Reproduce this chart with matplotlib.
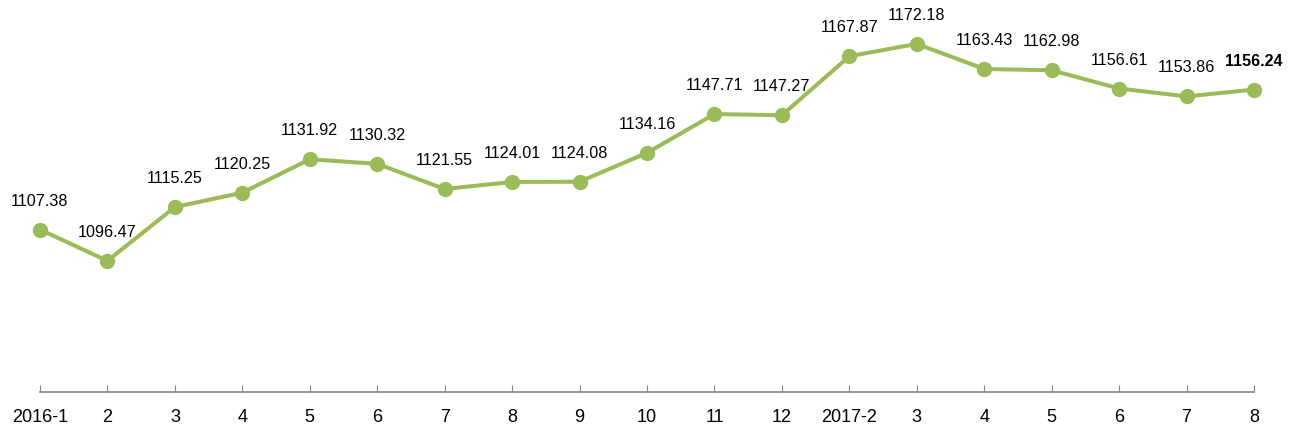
import numpy as np
import matplotlib.pyplot as plt

plt.rcParams['font.family'] = ['Liberation Sans', 'DejaVu Sans']

months = ['2016-1', '2', '3', '4', '5', '6', '7', '8', '9', '10', '11', '12',
          '2017-2', '3', '4', '5', '6', '7', '8']
values = [1107.38, 1096.47, 1115.25, 1120.25, 1131.92, 1130.32, 1121.55, 1124.01,
          1124.08, 1134.16, 1147.71, 1147.27, 1167.87, 1172.18, 1163.43, 1162.98,
          1156.61, 1153.86, 1156.24]

green = '#9BBB59'

fig = plt.figure(figsize=(12.91, 4.32), dpi=100)
ax = fig.add_axes([40 / 1291, 40 / 432, 1214 / 1291, 392 / 432])

x = np.arange(len(values))
ax.plot(x, values, '-o', color=green, linewidth=2.9, markersize=10, clip_on=False)

# value labels above each point, last one in bold
for i, v in enumerate(values):
    last = i == len(values) - 1
    ax.annotate(f'{v:.2f}', (i, v), xytext=(0, 20.5), textcoords='offset points',
                ha='center', va='center', fontsize=11.6,
                fontweight='bold' if last else 'normal', annotation_clip=False)

ax.set_xlim(0, len(values) - 1)
ax.set_ylim(1050.7, 1187.5)
ax.set_xticks(x)
ax.set_xticklabels(months, fontsize=13)
ax.tick_params(axis='x', direction='in', length=5, color='#868686', pad=12)
ax.set_yticks([])
for s in ['top', 'right', 'left']:
    ax.spines[s].set_visible(False)
ax.spines['bottom'].set_color('#868686')
ax.spines['bottom'].set_linewidth(1.2)

fig.savefig('out.png', dpi=100)
